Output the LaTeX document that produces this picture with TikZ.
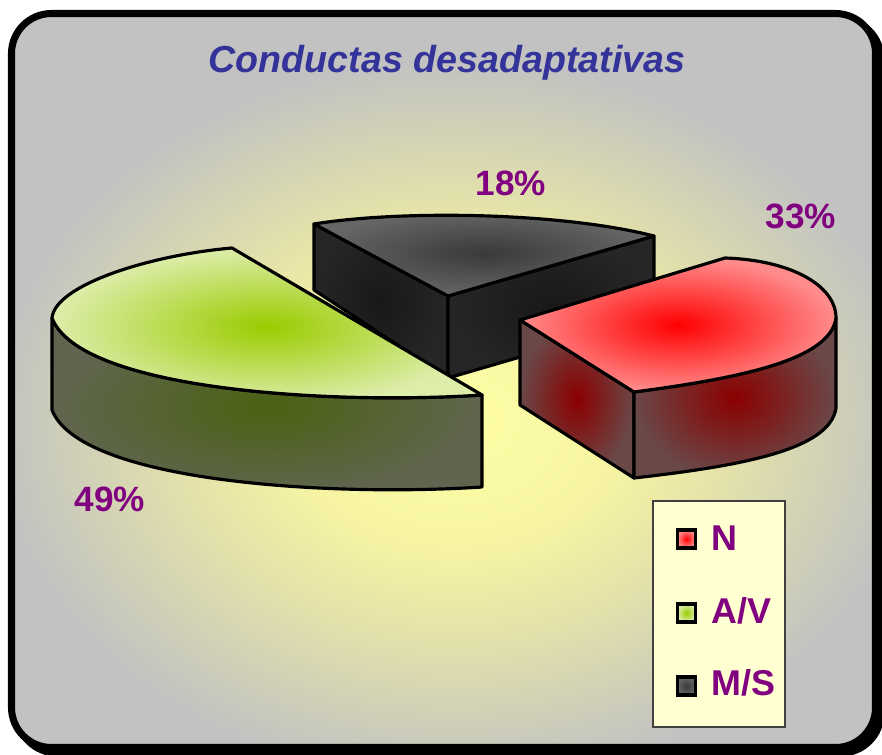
\documentclass[tikz,border=0pt]{standalone}
\usepackage{xcolor}
\usepackage{fontspec}
\newfontfamily\chartfont{Liberation Sans}
\usepackage{tikz}
\usetikzlibrary{positioning}
\definecolor{titleblue}{HTML}{333399}
\definecolor{pctpurple}{HTML}{800080}
\definecolor{bgyellow}{HTML}{FFFFA6}
\definecolor{bgmid}{HTML}{F6F4A2}
\definecolor{bgpale}{HTML}{E4E2AA}
\definecolor{bgdull}{HTML}{D2D2B6}
\definecolor{bggray}{HTML}{C2C2C2}
\definecolor{legfill}{HTML}{FFFFD2}
\definecolor{avtopin}{HTML}{99CC00}
\definecolor{avtopout}{HTML}{DDEDAA}
\definecolor{avsidein}{HTML}{4A6212}
\definecolor{avsideout}{HTML}{60654F}
\definecolor{mstopin}{HTML}{3A3A3A}
\definecolor{mstopout}{HTML}{666666}
\definecolor{mssidein}{HTML}{181818}
\definecolor{mssideout}{HTML}{262626}
\definecolor{ntopin}{HTML}{FF0000}
\definecolor{ntopout}{HTML}{FF8C8C}
\definecolor{nsidein}{HTML}{8B0000}
\definecolor{nsideout}{HTML}{6A4848}
\pgfdeclareradialshading{chartbg}{\pgfpointorigin}{color(0bp)=(bgyellow); color(9bp)=(bgmid); color(15bp)=(bgpale); color(20bp)=(bgdull); color(25bp)=(bggray); color(50bp)=(bggray)}

\begin{document}
\begin{tikzpicture}[x=0.01cm,y=-0.01cm,
	face/.style={draw=black,line width=0.9pt,line join=round},
	pct/.style={font=\chartfont\bfseries\fontsize{10}{12}\selectfont,text=pctpurple,anchor=base,inner sep=0pt},
	legtext/.style={font=\chartfont\bfseries\fontsize{10.2}{12}\selectfont,text=pctpurple,anchor=base west,inner sep=0pt},
	legsquare/.style={draw=black,line width=0.9pt,minimum size=0.18cm,inner sep=0pt}]
	\useasboundingbox (0,0) rectangle (882,754);
	\draw[black,fill=black,line width=2pt,rounded corners=0.4cm] (17,19) rectangle (881,753);
	\begin{scope}
		\clip[rounded corners=0.4cm] (11.5,13.5) rectangle (875.5,747.5);
		\fill[bggray] (0,0) rectangle (882,754);
		\shade[shading=chartbg] (-5,60) rectangle (915,780);
	\end{scope}
	\draw[black,line width=2pt,rounded corners=0.4cm] (11.5,13.5) rectangle (875.5,747.5);
	\node[font=\chartfont\bfseries\itshape\fontsize{10.7}{13}\selectfont,text=titleblue,anchor=base,inner sep=0pt] (title) at (447,72) {Conductas desadaptativas};
	\draw[face,inner color=mssidein,outer color=mssideout] (314,224) -- (448,296) -- (448,378) -- (314,290) -- cycle;
	\draw[face,inner color=mssidein,outer color=mssideout] (448,296) -- (654,236) -- (654,318) -- (448,378) -- cycle;
	\draw[face,inner color=mstopin,outer color=mstopout] (314,224) .. controls (400,210) and (560,212) .. (654,236) -- (448,296) -- cycle;
	\draw[face,inner color=avsidein,outer color=avsideout] (482,395) .. controls (330,405) and (80,390) .. (52,318) -- (52,410) .. controls (80,482) and (330,497) .. (482,487) -- cycle;
	\draw[face,inner color=avtopin,outer color=avtopout] (232,248) -- (482,395) .. controls (330,405) and (80,390) .. (52,318) .. controls (55,285) and (150,255) .. (232,248) -- cycle;
	\draw[face,inner color=nsidein,outer color=nsideout] (520,320) -- (634,392) -- (634,478) -- (520,405) -- cycle;
	\draw[face,inner color=nsidein,outer color=nsideout] (634,392) .. controls (740,378) and (830,360) .. (836,318) -- (836,408) .. controls (830,450) and (740,466) .. (634,478) -- cycle;
	\draw[face,inner color=ntopin,outer color=ntopout] (520,320) -- (725,258) .. controls (790,260) and (836,285) .. (836,318) .. controls (830,360) and (740,378) .. (634,392) -- cycle;
	\node[pct] (pctMS) at (511,195) {18\%};
	\node[pct] (pctN) at (801,228) {33\%};
	\node[pct] (pctAV) at (110,511) {49\%};
	\draw[fill=legfill,draw=black!75,line width=0.5pt] (653,501) rectangle (785,727);
	\node[legsquare,inner color=ntopin,outer color=ntopout] (sqN) at (686.5,539) {};
	\node[legsquare,inner color=avtopin,outer color=avtopout] (sqAV) at (686.5,613) {};
	\node[legsquare,inner color=mstopin,outer color=mstopout] (sqMS) at (686.5,686) {};
	\node[legtext] (legN) at (711,550) {N};
	\node[legtext] (legAV) at (711,623) {A/V};
	\node[legtext] (legMS) at (711,695) {M/S};
\end{tikzpicture}
\end{document}
